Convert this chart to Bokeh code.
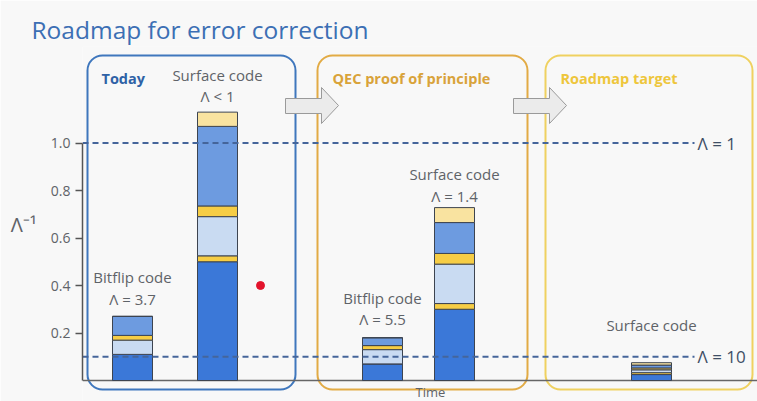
from bokeh.plotting import figure
from bokeh.models import ColumnDataSource, LinearAxis, FixedTicker, Range1d, BoxAnnotation, NumeralTickFormatter
from bokeh.core.properties import value
from bokeh.embed import file_html
from bokeh.resources import INLINE

# ---------------- data ----------------
bar_names = ["Bitflip code", "Surface code", "Bitflip code", "Surface code", "Surface code"]
bar_lambda = ["Λ = 3.7", "Λ < 1", "Λ = 5.5", "Λ = 1.4", ""]
seg_dark = [0.11, 0.50, 0.07, 0.30, 0.025]
seg_yel1 = [0.0, 0.025, 0.0, 0.024, 0.008]
seg_light = [0.06, 0.165, 0.06, 0.166, 0.012]
seg_yel2 = [0.02, 0.045, 0.017, 0.045, 0.008]
seg_medium = [0.08, 0.335, 0.033, 0.13, 0.012]
seg_top = [0.0, 0.06, 0.0, 0.063, 0.010]
thresholds = [1, 10]          # Λ values of the dashed reference lines
y_ticks = [0.2, 0.4, 0.6, 0.8, 1.0]
panel_titles = ["Today", "QEC proof of principle", "Roadmap target"]
title_text = "Roadmap for error correction"
y_label = "Λ⁻¹"
x_label = "Time"

# ---------------- layout (reference pixel space) ----------------
W, H = 757, 401
LEFT = 82
TOP = 46
PX = 237.5  # pixels per unit of y


def vy(ry):
    return (380 - ry) / PX


bar_x = [132, 217, 382, 454, 651]
name_off = [39, 37, 40, 34, 38]
lam_off = [17, 16, 19, 12, 0]
panel_box = [(87, 295), (317, 527), (545, 752)]
panel_line = ["#3f77bd", "#e2ab45", "#efd160"]
panel_text = ["#2f62a6", "#d9a33a", "#eec63c"]
panel_title_x = [101, 332, 560]

p = figure(width=W, height=H, x_range=Range1d(LEFT, W),
           y_range=Range1d(vy(H), vy(TOP)), x_axis_type=None, y_axis_type=None,
           toolbar_location=None, output_backend="svg",
           min_border_left=LEFT, min_border_right=0, min_border_top=TOP, min_border_bottom=0)
p.outline_line_color = None
p.background_fill_color = "#f8f8f8"
p.border_fill_color = "#f8f8f8"

p.title.text = title_text
p.title.text_font = "Open Sans"
p.title.text_font_size = "24.5px"
p.title.text_font_style = "normal"
p.title.text_color = "#3c6fb4"
p.title.align = "left"
p.title.offset = 31 - LEFT
p.title.standoff = 2

yaxis = LinearAxis(ticker=FixedTicker(ticks=y_ticks), bounds=(0, 1.0),
                   formatter=NumeralTickFormatter(format="0.0"),
                   major_tick_out=7, major_tick_in=0, minor_tick_out=0, minor_tick_in=0,
                   axis_line_color="#555555", axis_line_width=1.5,
                   major_tick_line_color="#555555", major_tick_line_width=1.5,
                   major_label_text_font_size="14px", major_label_text_color="#5f6368",
                   major_label_text_font="Open Sans", major_label_standoff=5,
                   axis_label=y_label, axis_label_orientation="horizontal",
                   axis_label_standoff=11, axis_label_text_font="Open Sans",
                   axis_label_text_font_size="20px", axis_label_text_font_style="normal",
                   axis_label_text_color="#5f6368")
p.add_layout(yaxis, "left")

# panels
for (l, r), lc in zip(panel_box, panel_line):
    p.add_layout(BoxAnnotation(left=l, right=r, top=vy(55), bottom=vy(389), fill_alpha=0,
                               fill_color=None, line_color=lc, line_alpha=1, line_width=2,
                               border_radius=15, level="underlay"))

p.text(x=panel_title_x, y=[vy(78)] * 3, text=panel_titles, text_align="left",
       text_baseline="middle", text_font=value("Open Sans"), text_font_size="14.5px",
       text_font_style="bold", text_color=panel_text)

# baseline
p.line(x=[LEFT, W], y=[0, 0], line_color="#666666", line_width=1.5)

# bars
src = ColumnDataSource(dict(x=bar_x, dark=seg_dark, yel1=seg_yel1, light=seg_light,
                            yel2=seg_yel2, medium=seg_medium, top=seg_top))
p.vbar_stack(["dark", "yel1", "light", "yel2", "medium", "top"], x="x", width=40, source=src,
             fill_color=["#3b78d8", "#f6cd45", "#c9dbf2", "#f6cd45", "#6d9be0", "#f9e3a0"],
             line_color="#3d4450", line_width=1)

totals = [sum(s) for s in zip(seg_dark, seg_yel1, seg_light, seg_yel2, seg_medium, seg_top)]
p.text(x=bar_x, y=[t + o / PX for t, o in zip(totals, name_off)], text=bar_names,
       text_align="center", text_baseline="middle", text_font=value("Open Sans"),
       text_font_size="15px", text_color="#5f6368")
p.text(x=bar_x[:4], y=[t + o / PX for t, o in zip(totals[:4], lam_off[:4])], text=bar_lambda[:4],
       text_align="center", text_baseline="middle", text_font=value("Open Sans"),
       text_font_size="15px", text_color="#5f6368")

# dashed Λ lines
for lam in thresholds:
    yv = 1.0 / lam
    p.line(x=[LEFT, 694], y=[yv, yv], line_dash="6 4", line_width=2, line_color="#45659a")
    p.text(x=[697], y=[yv], text=[f"Λ = {lam}"], text_align="left", text_baseline="middle",
           text_font=value("Open Sans"), text_font_size="17px", text_color="#3f4f66")

# arrows
for dx in [0, 228]:
    xs = [285 + dx, 321 + dx, 321 + dx, 338 + dx, 321 + dx, 321 + dx, 285 + dx]
    ys = [vy(98), vy(98), vy(87), vy(105), vy(123), vy(113), vy(113)]
    p.patch(xs, ys, fill_color="#ebebeb", line_color="#9a9a9a", line_width=1)

# pointer dot
p.scatter(x=[260], y=[vy(285)], size=8, color="#e3132c")

# x label at the bottom edge
p.text(x=[430], y=[vy(400)], text=[x_label], text_align="center", text_baseline="bottom",
       text_font=value("Open Sans"), text_font_size="13px", text_color="#5f6368")

open("out.html", "w").write(file_html(p, INLINE))
